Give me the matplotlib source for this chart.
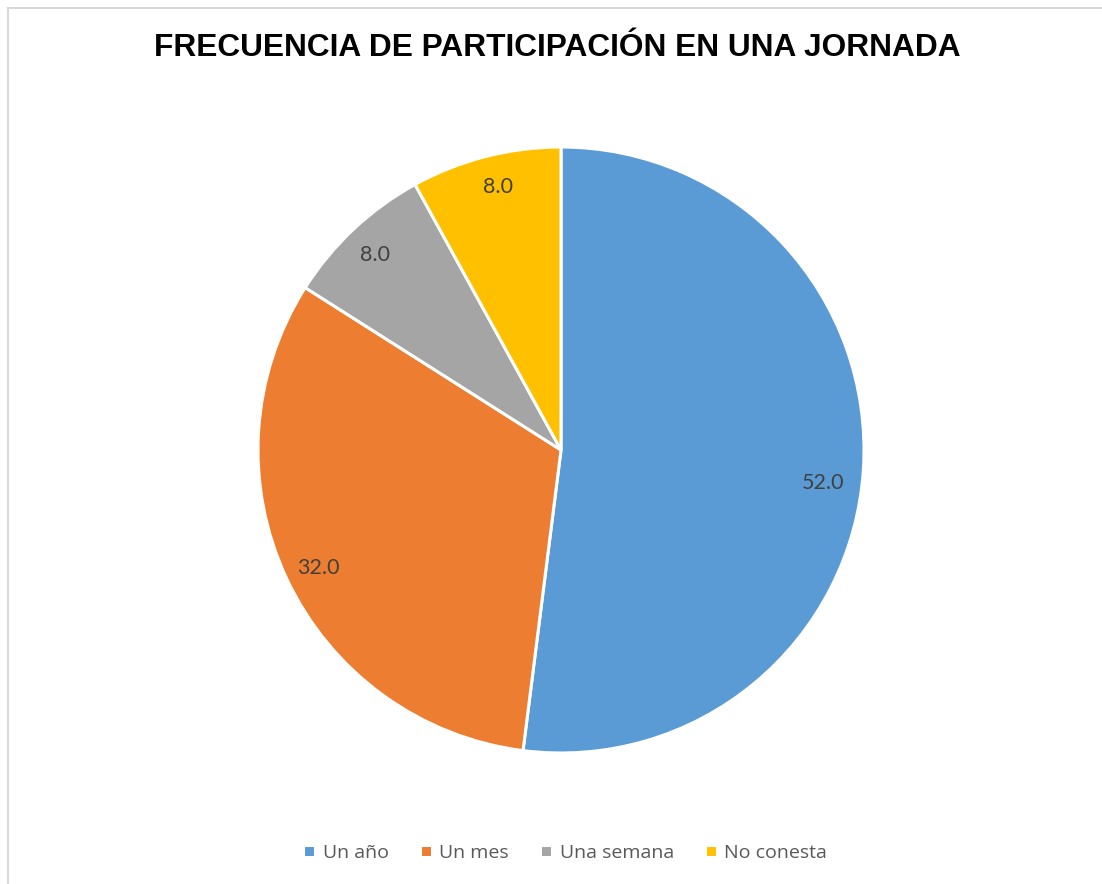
import matplotlib.pyplot as plt
from matplotlib.patches import Rectangle

categories = ['Un año', 'Un mes', 'Una semana', 'No conesta']
values = [52.0, 32.0, 8.0, 8.0]
colors = ['#5B9BD5', '#ED7D31', '#A5A5A5', '#FFC000']

W, H = 1102, 884
fig = plt.figure(figsize=(W / 100, H / 100), dpi=100)

# chart frame (only top and left edges visible in the reference)
fig.patches.append(Rectangle((8 / W, -0.1), 1.2, 1 - 8 / H + 0.1,
                             transform=fig.transFigure, fill=False,
                             edgecolor='#D9D9D9', linewidth=1.5))

cx, cy, r = 561, 450, 303
ax = fig.add_axes([(cx - r) / W, 1 - (cy + r) / H, 2 * r / W, 2 * r / H])
wedges, texts, autotexts = ax.pie(
    values, colors=colors, startangle=90, counterclock=False,
    autopct='%.1f', pctdistance=0.885,
    wedgeprops=dict(edgecolor='white', linewidth=2.2),
    textprops=dict(color='#404040', fontsize=15.5, family=['Lato', 'DejaVu Sans']))
for t, v in zip(autotexts, values):
    t.set_text('%.1f' % v)
# Excel's best-fit placement: nudge labels slightly (pixel offsets / radius)
nudges = [(-6, -16), (0, -4), (-2, 0), (4, 3)]
for t, (dx, dy) in zip(autotexts, nudges):
    x, y = t.get_position()
    t.set_position((x + dx / r, y + dy / r))
ax.set_xlim(-1, 1)
ax.set_ylim(-1, 1)
ax.set_aspect('equal')

fig.text(0.5055, 1 - 48 / H, 'FRECUENCIA DE PARTICIPACIÓN EN UNA JORNADA',
         ha='center', va='center', fontsize=22.8, fontweight='bold',
         family=['Liberation Sans', 'DejaVu Sans'], color='black')

leg = fig.legend(wedges, categories, loc='center', bbox_to_anchor=(0.513, 1 - 853 / H),
                 ncol=4, frameon=False, handlelength=0.6, handleheight=0.6,
                 handletextpad=0.4, columnspacing=1.6,
                 prop=dict(family=['Open Sans', 'DejaVu Sans'], size=14))
for t in leg.get_texts():
    t.set_color('#595959')

plt.savefig('out.png', dpi=100)
